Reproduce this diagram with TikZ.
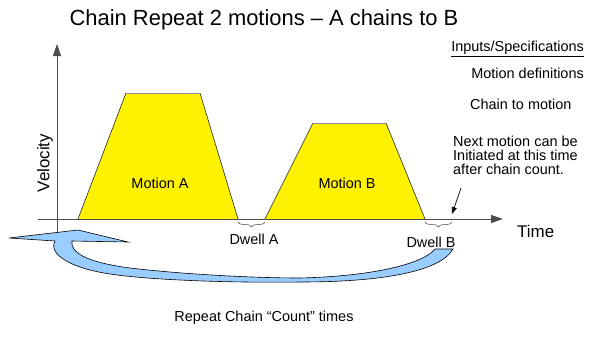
\documentclass[tikz,border=0pt]{standalone}
\usepackage{fontspec}
\setmainfont{Liberation Sans}
\usetikzlibrary{arrows.meta,decorations.pathreplacing}
\definecolor{loopblue}{RGB}{153,204,255}
\begin{document}
\begin{tikzpicture}[x=1bp,y=-1bp,
  lbl/.style={inner sep=0pt,font=\fontsize{14.5}{14}\selectfont},
  big/.style={inner sep=0pt,font=\fontsize{17}{20}\selectfont},
  axis/.style={draw=black!70,line width=0.8bp,-{Triangle[length=12bp,width=8bp]}},
  motionfill/.style={fill=yellow},
  motionedge/.style={draw=black!85,line width=0.6bp},
  motiontop/.style={draw=black!45,line width=0.6bp},
  dwell/.style={draw=black!75,line width=0.5bp,decorate,decoration={brace,mirror,amplitude=5bp}},
  loop/.style={fill=loopblue,draw=black,line width=0.6bp},
  pointer/.style={draw=black,line width=0.7bp,-{Triangle[length=7bp,width=5bp]}}]
\useasboundingbox (0,0) rectangle (589,339);

% motion A
\fill[motionfill] (78,219) -- (126,93) -- (200,93) -- (238,219) -- cycle;
\draw[motionedge] (78,219) -- (126,93);
\draw[motiontop] (126,93) -- (200,93);
\draw[motionedge] (200,93) -- (238,219);
% motion B
\fill[motionfill] (265,219) -- (313,123) -- (386,123) -- (425,219) -- cycle;
\draw[motionedge] (265,219) -- (313,123);
\draw[motiontop] (313,123) -- (386,123);
\draw[motionedge] (386,123) -- (425,219);

% axes
\coordinate (ybot) at (57,234);
\coordinate (ytop) at (57,44);
\coordinate (xl) at (38,219);
\coordinate (xr) at (503,219);
\draw[axis] (ybot) -- (ytop);
\draw[axis] (xl) -- (xr);

% loop arrow
\filldraw[loop] (9,238) -- (78,230) -- (128,242) -- (72,241)
  .. controls (70,252) and (85,262) .. (130,268)
  .. controls (190,275) and (260,278) .. (300,278)
  .. controls (380,276) and (425,262) .. (435,249)
  -- (453,249)
  .. controls (440,272) and (380,282) .. (300,282)
  .. controls (230,283) and (150,280) .. (110,274)
  .. controls (70,268) and (48,254) .. (55,241)
  -- cycle;

% dwell braces
\coordinate (da1) at (238,222);
\coordinate (da2) at (265,222);
\coordinate (db1) at (425,222);
\coordinate (db2) at (452,222);
\draw[dwell] (da1) -- (da2);
\draw[dwell] (db1) -- (db2);
\node[lbl] (dwa) at (254,239) {Dwell A};
\node[lbl] (dwb) at (431,242) {Dwell B};

% labels
\node[lbl] (ma) at (160,183) {Motion A};
\node[lbl] (mb) at (347,183) {Motion B};
\node[big,rotate=90] (vel) at (45,163) {Velocity};
\node[big,anchor=west] (time) at (517,231) {Time};
\node[inner sep=0pt,font=\fontsize{22}{26}\selectfont] (title) at (264,20) {Chain Repeat 2 motions – A chains to B};
\node[lbl,anchor=east] (inp) at (584,49) {\underline{Inputs/Specifications}};
\node[lbl,anchor=east] (mdef) at (584,73) {Motion definitions};
\node[lbl,anchor=west] (cto) at (470,104) {Chain to motion};
\node[lbl,anchor=north west,align=left] (next) at (453,136) {Next motion can be\\Initiated at this time\\after chain count.};
\node[lbl] (rep) at (264,318) {Repeat Chain “Count” times};

% pointer
\coordinate (ps) at (461,188);
\coordinate (pt) at (452,214);
\draw[pointer] (ps) -- (pt);
\end{tikzpicture}
\end{document}
